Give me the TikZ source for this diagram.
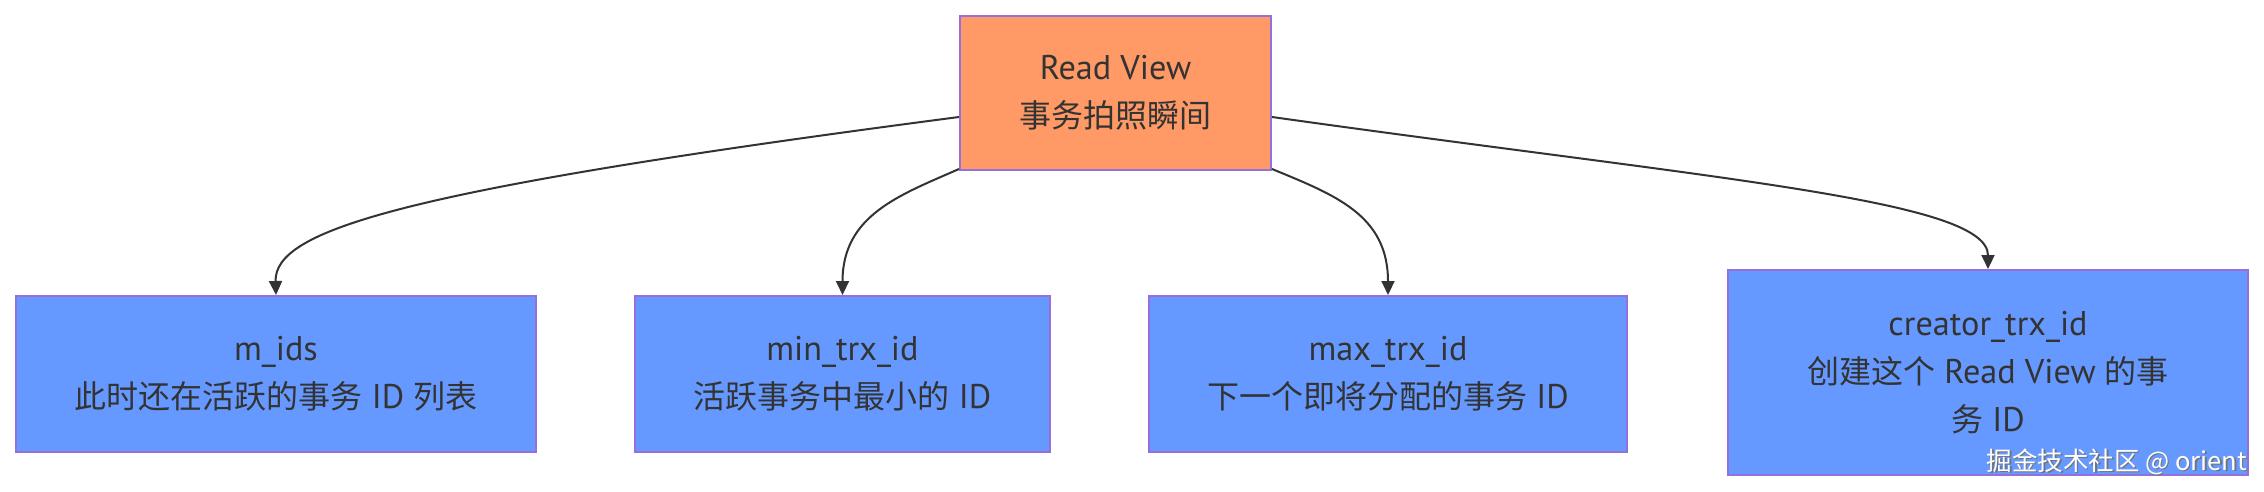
\documentclass[tikz,border=0pt]{standalone}
\usepackage{fontspec}
\setmainfont{PT Sans}[Scale=1.07]
\newfontfamily\cjk{Noto Sans CJK SC}
\usetikzlibrary{arrows.meta}
\definecolor{txt}{HTML}{333333}
\definecolor{bord}{HTML}{9370DB}
\definecolor{orangefill}{HTML}{FF9966}
\definecolor{bluefill}{HTML}{6699FF}
\definecolor{edgec}{HTML}{333333}
\tikzset{
  box/.style={draw=bord, line width=2pt, align=center, text=txt, inner sep=0pt,
    font=\fontsize{32}{48}\selectfont},
  rootbox/.style={box, fill=orangefill},
  leafbox/.style={box, fill=bluefill},
  link/.style={draw=edgec, line width=2pt, -{Triangle[width=13pt,length=14pt]}},
  wmark/.style={anchor=south east, inner sep=0pt, font=\fontsize{25.5}{25.5}\selectfont\cjk},
}
\begin{document}
\begin{tikzpicture}[x=1pt,y=-1pt]
\useasboundingbox[fill=white] (0,0) rectangle (2264,492);
\node[rootbox, minimum width=311pt, minimum height=154pt] (root) at (1115.5,93)
  {Read View\\{\cjk 事务拍照瞬间}};
\node[leafbox, minimum width=520pt, minimum height=156pt] (mids) at (276,374)
  {m\_ids\\{\cjk 此时还在活跃的事务} ID {\cjk 列表}};
\node[leafbox, minimum width=415pt, minimum height=156pt] (minid) at (842.5,374)
  {min\_trx\_id\\{\cjk 活跃事务中最小的} ID};
\node[leafbox, minimum width=478pt, minimum height=156pt] (maxid) at (1388,374)
  {max\_trx\_id\\{\cjk 下一个即将分配的事务} ID};
\node[leafbox, minimum width=520pt, minimum height=205pt] (creator) at (1988,372.5)
  {creator\_trx\_id\\{\cjk 创建这个} Read View {\cjk 的事}\\{\cjk 务} ID};
\node[wmark, text=black!55] (wmshade) at (2248.5,476.5) {掘金技术社区 @ orient};
\node[wmark, text=white] (wm) at (2247,475) {掘金技术社区 @ orient};
\draw[link] ([yshift=-24pt]root.west) .. controls (400,190) and (274,230) .. (mids.north);
\draw[link] ([yshift=2pt]root.south west) .. controls (900,195) and (842.5,215) .. (minid.north);
\draw[link] ([yshift=2pt]root.south east) .. controls (1335,195) and (1388,215) .. (maxid.north);
\draw[link] ([yshift=-24pt]root.east) .. controls (1720,180) and (1988,200) .. (creator.north);
\end{tikzpicture}
\end{document}
